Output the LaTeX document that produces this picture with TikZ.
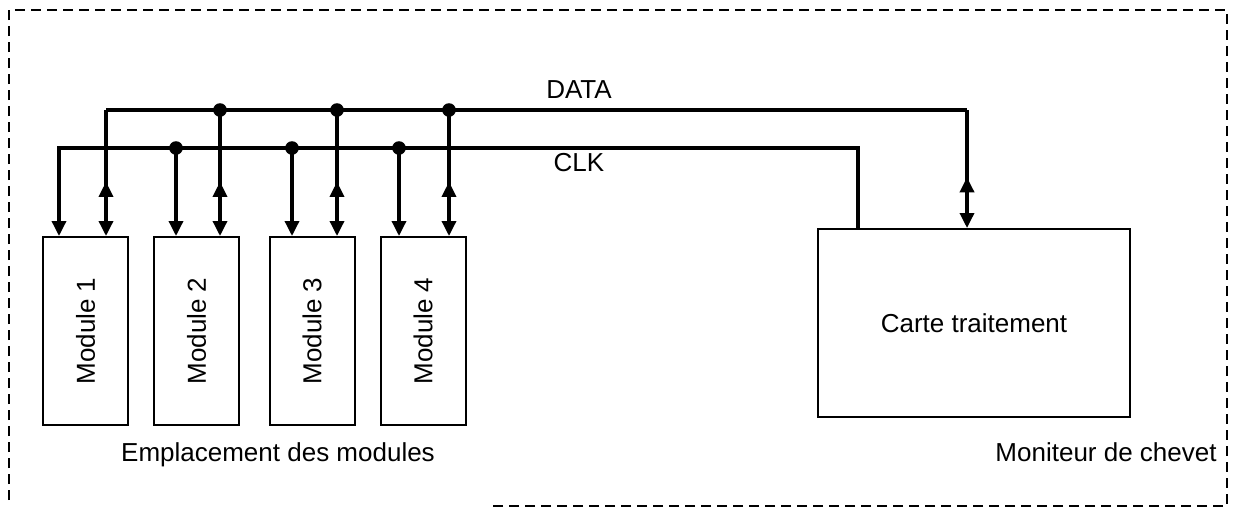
\documentclass[tikz,border=0pt]{standalone}
\usepackage{fontspec}
\setmainfont{Liberation Sans}
\usetikzlibrary{arrows.meta,calc,decorations.markings}
\begin{document}
\begin{tikzpicture}[x=0.5pt,y=-0.5pt,
  every node/.style={font=\fontsize{13}{15}\selectfont,inner sep=1pt},
  box/.style={draw,line width=1pt,minimum width=42.5pt,minimum height=94pt},
  bus/.style={line width=1.7pt},
  tip/.style={-{Triangle[length=7.5pt,width=7pt]}},
  twoway/.style={tip,postaction={decorate},decoration={markings,
    mark=at position 0.57 with {\arrowreversed{Triangle[length=7.5pt,width=7pt]}}}}]
\useasboundingbox (0,0) rectangle (1236,509);
% frame
\draw[line width=0.8pt,dash pattern=on 5pt off 3pt] (9,500) -- (9,10) -- (1227,10) -- (1227,506) -- (490,506);
% modules
\node[box] (m1) at (85.5,331) {\rotatebox{90}{Module 1}};
\node[box] (m2) at (196.5,331) {\rotatebox{90}{Module 2}};
\node[box] (m3) at (312,331) {\rotatebox{90}{Module 3}};
\node[box] (m4) at (423,331) {\rotatebox{90}{Module 4}};
\node[draw,line width=1pt,minimum width=156pt,minimum height=94pt] (ct) at (974,323) {Carte traitement};
\node (lmod) at (278,455) {Emplacement des modules};
\node[anchor=east] (lmon) at (1219,452) {Moniteur de chevet};
\node (ldata) at (579,90) {DATA};
\node (lclk) at (579,163) {CLK};
% bus taps
\coordinate (d1) at (106,110); \coordinate (d2) at (220,110);
\coordinate (d3) at (337,110); \coordinate (d4) at (449,110);
\coordinate (d5) at (967,110);
\coordinate (k1) at (59,148); \coordinate (k2) at (176,148);
\coordinate (k3) at (292,148); \coordinate (k4) at (399,148);
\coordinate (k5) at (858,148);
% CLK
\draw[bus,tip] (k5 |- ct.north) -- (k5) -- (k1) -- (k1 |- m1.north);
\draw[bus,tip] (k2) -- (k2 |- m2.north);
\draw[bus,tip] (k3) -- (k3 |- m3.north);
\draw[bus,tip] (k4) -- (k4 |- m4.north);
% DATA
\draw[bus] (d1) -- (d5);
\draw[bus,twoway] (d1) -- (d1 |- m1.north);
\draw[bus,twoway] (d2) -- (d2 |- m2.north);
\draw[bus,twoway] (d3) -- (d3 |- m3.north);
\draw[bus,twoway] (d4) -- (d4 |- m4.north);
\draw[bus,twoway] (d5) -- (d5 |- ct.north);
\foreach \p in {d2,d3,d4,k2,k3,k4} \fill (\p) circle (3.4pt);
\end{tikzpicture}
\end{document}
